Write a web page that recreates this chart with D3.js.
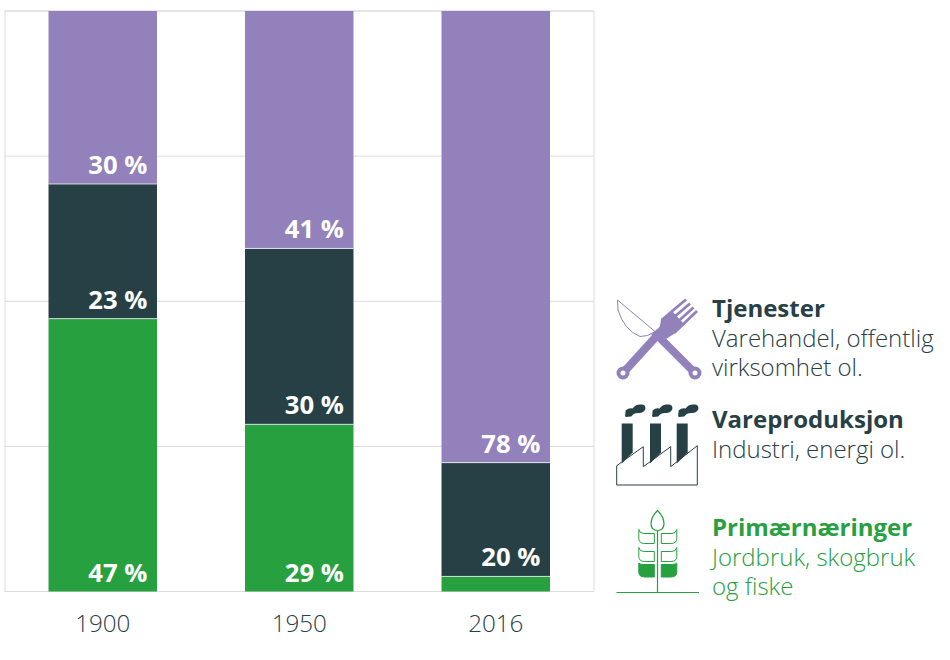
<!DOCTYPE html>
<html>
<head>
<meta charset="utf-8">
<script src="https://cdnjs.cloudflare.com/ajax/libs/d3/7.8.5/d3.min.js"></script>
<style>
    html, body { margin: 0; padding: 0; background: #fff; }
    svg { display: block; font-family: "Open Sans", sans-serif; }
</style>
</head>
<body>
<svg id="chart" width="950" height="660"></svg>
<script>
var years = ["1900", "1950", "2016"];
var primary = [47, 28.8, 2.6];
var industry = [23.2, 30.3, 19.6];
var services = [29.8, 40.9, 77.8];
var grid_ticks = [0, 25, 50, 75, 100];

var GREEN = "#27a03f", DARK = "#274046", PURPLE = "#9281bb", GRID = "#dcdcdc";

var svg = d3.select("#chart");

var x = d3.scaleBand().domain(years).range([4.5, 594]).paddingInner(0.448).paddingOuter(0.224);
var y = d3.scaleLinear().domain([0, 100]).range([591.5, 11]);

// grid and frame
var grid = svg.append("g")
    .attr("transform", "translate(4.5,-0.5)")
    .call(d3.axisRight(y).tickValues(grid_ticks).tickSize(589.5).tickFormat(""));
grid.select(".domain").attr("stroke", GRID);
grid.selectAll("line").attr("stroke", GRID);
svg.append("line").attr("x1", 594).attr("x2", 594)
    .attr("y1", y(100)).attr("y2", y(0)).attr("stroke", GRID);

// stacked bars
var rows = years.map(function(year, i) {
    return {year: year, primary: primary[i], industry: industry[i], services: services[i]};
});
var keys = ["primary", "industry", "services"];
var colors = d3.scaleOrdinal().domain(keys).range([GREEN, DARK, PURPLE]);
var stacked = d3.stack().keys(keys)(rows);

var layers = svg.append("g").selectAll("g")
    .data(stacked)
    .enter().append("g")
    .attr("fill", function(d) { return colors(d.key); });

layers.selectAll("rect")
    .data(function(d) { return d; })
    .enter().append("rect")
    .attr("x", function(d) { return x(d.data.year); })
    .attr("width", x.bandwidth())
    .attr("y", function(d) { return y(d[1]); })
    .attr("height", function(d) { return y(d[0]) - y(d[1]); });

// thin light seam between the segments
layers.selectAll("line")
    .data(function(d) { return d.key === "primary" ? [] : d; })
    .enter().append("line")
    .attr("x1", function(d) { return x(d.data.year); })
    .attr("x2", function(d) { return x(d.data.year) + x.bandwidth(); })
    .attr("y1", function(d) { return y(d[0]); })
    .attr("y2", function(d) { return y(d[0]); })
    .attr("stroke", "#fff")
    .attr("stroke-opacity", 0.75);

// value labels sit at the bottom right of each segment, the small 2016 green one has none
layers.selectAll("text")
    .data(function(d) { return d.filter(function(s) { return s[1] - s[0] > 5; }); })
    .enter().append("text")
    .attr("x", function(d) { return x(d.data.year) + x.bandwidth() - 9.5; })
    .attr("y", function(d) { return y(d[0]) - 10; })
    .attr("text-anchor", "end")
    .attr("fill", "#fff")
    .attr("font-size", 25.7)
    .attr("font-weight", 700)
    .text(function(d) { return Math.round(d[1] - d[0]) + " %"; });

// year axis
var x_axis = svg.append("g")
    .attr("transform", "translate(0," + y(0) + ")")
    .call(d3.axisBottom(x).tickSize(0).tickPadding(23));
x_axis.select(".domain").remove();
x_axis.selectAll("text")
    .attr("font-family", "'Open Sans', sans-serif")
    .attr("font-size", 24.2)
    .attr("font-weight", 300)
    .attr("fill", "#274046");

// legend text
var legend_items = [
    {color: DARK, sub: DARK, y: 317, lines: ["Tjenester", "Varehandel, offentlig", "virksomhet ol."]},
    {color: DARK, sub: DARK, y: 428, lines: ["Vareproduksjon", "Industri, energi ol."]},
    {color: GREEN, sub: GREEN, y: 536, lines: ["Primærnæringer", "Jordbruk, skogbruk", "og fiske"]}
];

legend_items.forEach(function(item) {
    item.lines.forEach(function(line, i) {
        svg.append("text")
            .attr("x", 712)
            .attr("y", item.y + (i === 0 ? 0 : 1) + i * 29)
            .attr("font-size", 24)
            .attr("font-weight", i === 0 ? 700 : 300)
            .attr("fill", i === 0 ? item.color : item.sub)
            .text(line);
    });
});

draw_cutlery(svg.append("g"));
draw_factory(svg.append("g"));
draw_wheat(svg.append("g"));


function draw_cutlery(g) {
    // knife blade
    g.append("path")
        .attr("d", "M617.5,300 L655,331.5 Q648,337 640,336.5 Q624,330 618,310 Z")
        .attr("fill", "#fff").attr("stroke", PURPLE).attr("stroke-width", 1);
    // handles
    g.selectAll("line.handle")
        .data([[654, 332, 695, 373], [663, 329, 623, 373]])
        .enter().append("line")
        .attr("x1", function(d) { return d[0]; })
        .attr("y1", function(d) { return d[1]; })
        .attr("x2", function(d) { return d[2]; })
        .attr("y2", function(d) { return d[3]; })
        .attr("stroke", PURPLE).attr("stroke-width", 8);
    g.selectAll("circle.ring")
        .data([[695, 373], [623, 373]])
        .enter().append("circle")
        .attr("cx", function(d) { return d[0]; })
        .attr("cy", function(d) { return d[1]; })
        .attr("r", 4.5)
        .attr("fill", "#fff").attr("stroke", PURPLE).attr("stroke-width", 4);
    // fork head and tines
    g.append("path")
        .attr("d", "M661,319.5 L672,311 L684,324 L674.5,333.5 L666,339 L659,332 Z")
        .attr("fill", PURPLE);
    g.selectAll("line.tine")
        .data([[661.7, 320, 686, 299.5], [665.8, 324.3, 690, 303.5], [669.9, 328.7, 693.5, 307.5], [674, 333, 697, 311]])
        .enter().append("line")
        .attr("x1", function(d) { return d[0]; })
        .attr("y1", function(d) { return d[1]; })
        .attr("x2", function(d) { return d[2]; })
        .attr("y2", function(d) { return d[3]; })
        .attr("stroke", PURPLE).attr("stroke-width", 2.8);
}


function draw_factory(g) {
    g.selectAll("path.chimney")
        .data([621.7, 650, 676.7])
        .enter().append("path")
        .attr("d", function(c) {
            return "M" + c + ",423.5 h11 v29 l-11,11 Z";
        })
        .attr("fill", DARK);
    g.append("path")
        .attr("d", "M616.7,485 V465.7 L643.3,446.7 V466.7 L670.7,446.7 V466.7 L697.3,445.7 V485 Z")
        .attr("fill", "none").attr("stroke", DARK).attr("stroke-width", 1);
    g.selectAll("path.smoke")
        .data([0, 27, 53])
        .enter().append("path")
        .attr("transform", function(d) { return "translate(" + d + ",0)"; })
        .attr("d", "M626,416 L626.5,411 Q629,408.5 633,409.5 Q636,405 641,405.5 Q645,405 644.5,409 Q643,412.5 638,412 Q633,412 631,415.5 Z")
        .attr("fill", DARK).attr("stroke", DARK).attr("stroke-width", 1.8).attr("stroke-linejoin", "round");
}


function draw_wheat(g) {
    g.append("line").attr("x1", 616.5).attr("x2", 699).attr("y1", 592.5).attr("y2", 592.5)
        .attr("stroke", GREEN).attr("stroke-width", 1.2);
    g.append("line").attr("x1", 657.5).attr("x2", 657.5).attr("y1", 530).attr("y2", 592)
        .attr("stroke", GREEN).attr("stroke-width", 1.2);
    g.append("path")
        .attr("d", "M657.5,510.5 Q664,517 664,523.5 Q664,530.5 657.5,530.5 Q651,530.5 651,523.5 Q651,517 657.5,510.5 Z")
        .attr("fill", "#fff").attr("stroke", GREEN).attr("stroke-width", 1.2);

    // leaves are mirrored around the stem, the lowest pair is filled
    var leaves = [
        {top: 529.5, dip: 4, fill: "#fff"},
        {top: 547.5, dip: 4, fill: "#fff"},
        {top: 563, dip: 1.5, fill: GREEN}
    ];
    leaves.forEach(function(leaf) {
        [1, -1].forEach(function(side) {
            g.append("path")
                .attr("transform", "translate(657.8,0) scale(" + side + ",1)")
                .attr("d", "M3.5,"+ (leaf.top + leaf.dip) + " H14 Q18,"+ (leaf.top + leaf.dip) + " 19,"+ leaf.top +
                    " V" + (leaf.top + 9) + " Q19," + (leaf.top + 14) + " 13," + (leaf.top + 14) + " H3.5 Z")
                .attr("fill", leaf.fill)
                .attr("stroke", GREEN).attr("stroke-width", 1);
        });
    });
}
</script>
</body>
</html>
